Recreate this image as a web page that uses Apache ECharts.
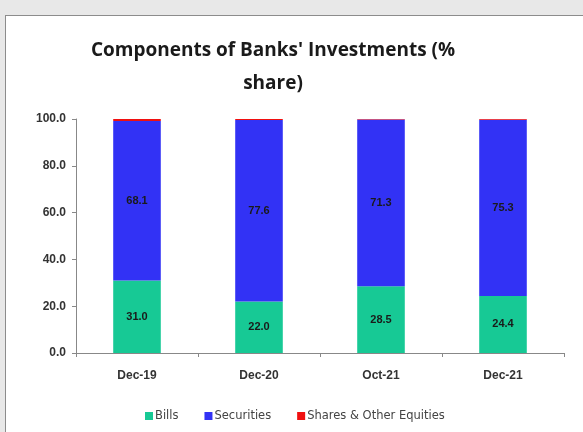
<!DOCTYPE html>
<html>
<head>
<meta charset="utf-8">
<script src="https://cdn.jsdelivr.net/npm/echarts@6/dist/echarts.min.js"></script>
<style>
  html, body { margin: 0; padding: 0; background: #e8e8e8; }
  #frame { position: absolute; left: 5px; top: 15px; width: 590px; height: 430px; background: #fff; border: 1px solid #8c8c8c; box-sizing: border-box; }
  #chart { position: absolute; left: 0; top: 0; width: 583px; height: 432px; }
</style>
</head>
<body>
<div id="frame"></div>
<div id="chart"></div>
<script>
// Share of each component in banks' investments, per period
const categories = ['Dec-19', 'Dec-20', 'Oct-21', 'Dec-21'];
const bills = [31.0, 22.0, 28.5, 24.4];
const securities = [68.1, 77.6, 71.3, 75.3];
const sharesEquities = [0.9, 0.4, 0.2, 0.3];
const yTicks = [0, 20, 40, 60, 80, 100];

const chart = echarts.init(document.getElementById('chart'), null, { renderer: 'canvas' });

const labelStyle = {
  show: true,
  position: 'inside',
  color: '#1a1a1a',
  fontFamily: 'Liberation Sans, Arial, sans-serif',
  fontWeight: 'bold',
  fontSize: 11,
  formatter: p => p.value.toFixed(1)
};

chart.setOption({
  animation: false,
  backgroundColor: 'transparent',
  title: {
    text: "Components of Banks' Investments (%\nshare)",
    left: 268,
    textAlign: 'center',
    top: 29,
    textStyle: {
      fontFamily: 'Open Sans, Liberation Sans, sans-serif',
      fontWeight: 'bold',
      fontSize: 19,
      lineHeight: 33,
      color: '#1a1a1a'
    }
  },
  legend: {
    top: 405,
    left: 140,
    itemWidth: 8,
    itemHeight: 8,
    itemGap: 26,
    icon: 'rect',
    textStyle: { fontSize: 11.5, color: '#444', fontFamily: 'DejaVu Sans, sans-serif', padding: [0, 0, 0, -3] },
    data: ['Bills', 'Securities', 'Shares & Other Equities']
  },
  grid: { left: 76, right: 19, top: 119, bottom: 79, containLabel: false },
  xAxis: {
    type: 'category',
    data: categories,
    axisLine: { lineStyle: { color: '#888', width: 1 } },
    axisTick: { show: true, length: 4, lineStyle: { color: '#888' } },
    axisLabel: { color: '#333', fontSize: 12, fontWeight: 'bold', margin: 17, fontFamily: 'Liberation Sans, Arial, sans-serif' }
  },
  yAxis: {
    type: 'value',
    min: yTicks[0],
    max: yTicks[yTicks.length - 1],
    interval: 20,
    axisLine: { show: true, lineStyle: { color: '#888' } },
    axisTick: { show: true, length: 4, inside: false, lineStyle: { color: '#888' } },
    splitLine: { show: false },
    axisLabel: { color: '#333', fontSize: 12, fontWeight: 'bold', margin: 10, fontFamily: 'Liberation Sans, Arial, sans-serif', formatter: v => v.toFixed(1) }
  },
  series: [
    { name: 'Bills', type: 'bar', stack: 'total', barWidth: '39%', data: bills, itemStyle: { color: '#17c995' }, label: labelStyle },
    { name: 'Securities', type: 'bar', stack: 'total', data: securities, itemStyle: { color: '#3232f5' }, label: labelStyle },
    { name: 'Shares & Other Equities', type: 'bar', stack: 'total', data: sharesEquities, itemStyle: { color: '#f01010' }, label: { show: false } }
  ]
});
</script>
</body>
</html>
